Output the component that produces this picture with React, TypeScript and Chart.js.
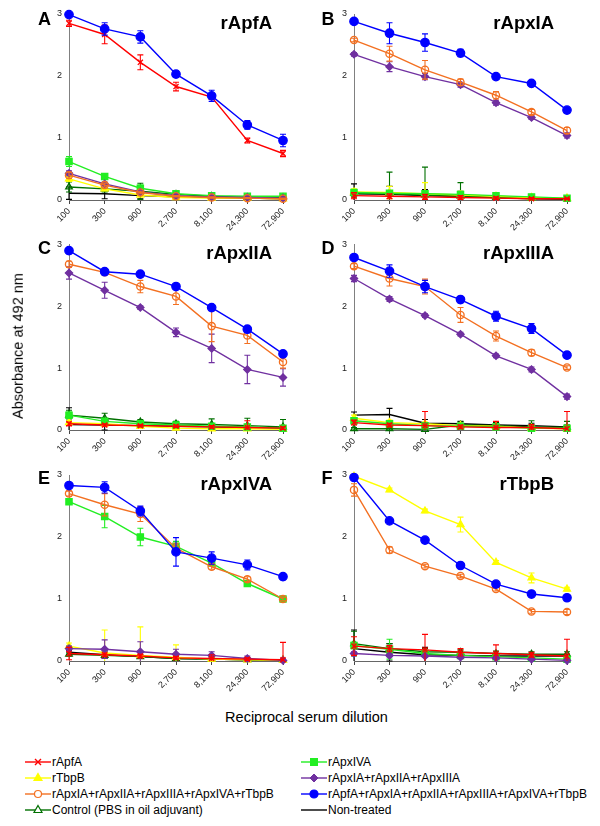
import React, { useEffect, useRef } from 'react';
import { Chart, registerables } from 'chart.js';

Chart.register(...registerables);

const FONT = "'Liberation Sans', Arial, Helvetica, sans-serif";

// ---------- categories / ticks ----------
const dilutions = ['100', '300', '900', '2,700', '8,100', '24,300', '72,900'];
const yMin = 0;
const yMax = 3;
const yStep = 1;

// ---------- series ----------
const seriesLabels = [
  'rApfA',
  'rTbpB',
  'rApxIA+rApxIIA+rApxIIIA+rApxIVA+rTbpB',
  'Control (PBS in oil adjuvant)',
  'rApxIVA',
  'rApxIA+rApxIIA+rApxIIIA',
  'rApfA+rApxIA+rApxIIA+rApxIIIA+rApxIVA+rTbpB',
  'Non-treated',
];

// ---------- Panel A : rApfA ----------
const A_apfa = [2.85, 2.67, 2.22, 1.83, 1.66, 0.96, 0.75];
const A_apfa_sd = [0.05, 0.15, 0.12, 0.07, 0.04, 0.04, 0.05];
const A_tbpb = [0.34, 0.18, 0.08, 0.04, 0.03, 0.03, 0.02];
const A_tbpb_sd = [0.04, 0.03, 0.02, 0.02, 0.01, 0.01, 0.01];
const A_mix5 = [0.4, 0.24, 0.12, 0.06, 0.04, 0.03, 0.02];
const A_mix5_sd = [0.05, 0.03, 0.02, 0.01, 0.01, 0.01, 0.01];
const A_ctrl = [0.21, 0.18, 0.14, 0.09, 0.06, 0.04, 0.04];
const A_ctrl_sd = [0.08, 0.05, 0.13, 0.04, 0.03, 0.02, 0.02];
const A_apx4 = [0.62, 0.38, 0.19, 0.1, 0.07, 0.06, 0.06];
const A_apx4_sd = [0.08, 0.04, 0.05, 0.03, 0.02, 0.02, 0.02];
const A_apx123 = [0.43, 0.26, 0.13, 0.07, 0.05, 0.04, 0.03];
const A_apx123_sd = [0.04, 0.03, 0.02, 0.02, 0.01, 0.01, 0.01];
const A_all6 = [2.99, 2.76, 2.63, 2.03, 1.68, 1.21, 0.96];
const A_all6_sd = [0.03, 0.1, 0.1, 0.05, 0.09, 0.07, 0.1];
const A_none = [0.11, 0.1, 0.07, 0.05, 0.04, 0.03, 0.02];
const A_none_sd = [0.1, 0.08, 0.05, 0.03, 0.02, 0.02, 0.02];

// ---------- Panel B : rApxIA ----------
const B_apfa = [0.07, 0.06, 0.05, 0.04, 0.03, 0.02, 0.02];
const B_apfa_sd = [0.05, 0.04, 0.04, 0.03, 0.02, 0.02, 0.01];
const B_tbpb = [0.13, 0.12, 0.1, 0.08, 0.06, 0.04, 0.03];
const B_tbpb_sd = [0.05, 0.1, 0.18, 0.06, 0.03, 0.02, 0.02];
const B_mix5 = [2.58, 2.36, 2.1, 1.9, 1.69, 1.42, 1.12];
const B_mix5_sd = [0.03, 0.12, 0.15, 0.05, 0.06, 0.04, 0.05];
const B_ctrl = [0.11, 0.1, 0.08, 0.06, 0.04, 0.03, 0.02];
const B_ctrl_sd = [0.06, 0.35, 0.45, 0.22, 0.03, 0.02, 0.02];
const B_apx4 = [0.12, 0.11, 0.1, 0.09, 0.07, 0.05, 0.03];
const B_apx4_sd = [0.03, 0.03, 0.03, 0.02, 0.02, 0.02, 0.02];
const B_apx123 = [2.35, 2.15, 1.99, 1.86, 1.57, 1.33, 1.04];
const B_apx123_sd = [0.03, 0.08, 0.05, 0.04, 0.04, 0.03, 0.04];
const B_all6 = [2.88, 2.69, 2.54, 2.37, 1.99, 1.88, 1.45];
const B_all6_sd = [0.04, 0.17, 0.14, 0.06, 0.04, 0.02, 0.03];
const B_none = [0.1, 0.09, 0.07, 0.06, 0.04, 0.02, 0.01];
const B_none_sd = [0.16, 0.13, 0.1, 0.08, 0.05, 0.02, 0.01];

// ---------- Panel C : rApxIIA ----------
const C_apfa = [0.1, 0.08, 0.07, 0.06, 0.05, 0.04, 0.03];
const C_apfa_sd = [0.03, 0.02, 0.02, 0.02, 0.02, 0.11, 0.02];
const C_tbpb = [0.12, 0.1, 0.06, 0.03, 0.02, 0.02, 0.01];
const C_tbpb_sd = [0.03, 0.03, 0.02, 0.01, 0.01, 0.01, 0.01];
const C_mix5 = [2.68, 2.55, 2.32, 2.16, 1.68, 1.53, 1.1];
const C_mix5_sd = [0.05, 0.04, 0.1, 0.13, 0.25, 0.13, 0.1];
const C_ctrl = [0.24, 0.19, 0.13, 0.1, 0.09, 0.07, 0.05];
const C_ctrl_sd = [0.08, 0.08, 0.04, 0.04, 0.09, 0.12, 0.12];
const C_apx4 = [0.24, 0.14, 0.1, 0.08, 0.06, 0.05, 0.03];
const C_apx4_sd = [0.05, 0.04, 0.03, 0.02, 0.02, 0.02, 0.02];
const C_apx123 = [2.54, 2.26, 1.98, 1.58, 1.32, 0.98, 0.85];
const C_apx123_sd = [0.1, 0.13, 0.03, 0.07, 0.23, 0.23, 0.14];
const C_all6 = [2.9, 2.56, 2.52, 2.32, 1.98, 1.63, 1.23];
const C_all6_sd = [0.05, 0.03, 0.03, 0.03, 0.04, 0.04, 0.05];
const C_none = [0.09, 0.08, 0.07, 0.06, 0.05, 0.04, 0.03];
const C_none_sd = [0.27, 0.08, 0.04, 0.03, 0.03, 0.02, 0.02];

// ---------- Panel D : rApxIIIA ----------
const D_apfa = [0.12, 0.08, 0.07, 0.05, 0.04, 0.04, 0.02];
const D_apfa_sd = [0.04, 0.03, 0.23, 0.03, 0.1, 0.05, 0.28];
const D_tbpb = [0.19, 0.12, 0.1, 0.07, 0.06, 0.03, 0.02];
const D_tbpb_sd = [0.05, 0.04, 0.03, 0.03, 0.03, 0.02, 0.02];
const D_mix5 = [2.65, 2.45, 2.32, 1.86, 1.52, 1.25, 1.01];
const D_mix5_sd = [0.04, 0.12, 0.12, 0.12, 0.08, 0.05, 0.03];
const D_ctrl = [0.02, 0.02, 0.01, 0.08, 0.07, 0.05, 0.04];
const D_ctrl_sd = [0.02, 0.02, 0.02, 0.05, 0.06, 0.1, 0.1];
const D_apx4 = [0.15, 0.1, 0.07, 0.06, 0.05, 0.03, 0.03];
const D_apx4_sd = [0.04, 0.03, 0.03, 0.02, 0.02, 0.02, 0.02];
const D_apx123 = [2.45, 2.12, 1.85, 1.55, 1.2, 0.98, 0.54];
const D_apx123_sd = [0.05, 0.04, 0.03, 0.03, 0.03, 0.04, 0.04];
const D_all6 = [2.79, 2.57, 2.32, 2.11, 1.84, 1.64, 1.21];
const D_all6_sd = [0.04, 0.1, 0.1, 0.05, 0.08, 0.08, 0.05];
const D_none = [0.24, 0.25, 0.11, 0.1, 0.08, 0.07, 0.05];
const D_none_sd = [0.05, 0.1, 0.06, 0.04, 0.04, 0.04, 0.03];

// ---------- Panel E : rApxIVA ----------
const E_apfa = [0.12, 0.1, 0.08, 0.05, 0.04, 0.03, 0.02];
const E_apfa_sd = [0.1, 0.03, 0.03, 0.02, 0.06, 0.02, 0.28];
const E_tbpb = [0.24, 0.13, 0.09, 0.06, 0.03, 0.02, 0.01];
const E_tbpb_sd = [0.05, 0.37, 0.46, 0.2, 0.03, 0.02, 0.01];
const E_mix5 = [2.7, 2.52, 2.37, 1.82, 1.52, 1.32, 1.0];
const E_mix5_sd = [0.04, 0.18, 0.12, 0.08, 0.04, 0.04, 0.03];
const E_ctrl = [0.11, 0.09, 0.07, 0.04, 0.03, 0.02, 0.02];
const E_ctrl_sd = [0.03, 0.03, 0.02, 0.02, 0.02, 0.01, 0.01];
const E_apx4 = [2.57, 2.33, 2.0, 1.85, 1.58, 1.25, 1.0];
const E_apx4_sd = [0.04, 0.18, 0.14, 0.08, 0.04, 0.03, 0.03];
const E_apx123 = [0.2, 0.19, 0.15, 0.11, 0.09, 0.04, 0.01];
const E_apx123_sd = [0.04, 0.15, 0.16, 0.08, 0.06, 0.04, 0.02];
const E_all6 = [2.83, 2.8, 2.42, 1.76, 1.66, 1.55, 1.36];
const E_all6_sd = [0.03, 0.09, 0.08, 0.23, 0.1, 0.08, 0.05];
const E_none = [0.14, 0.1, 0.07, 0.04, 0.03, 0.02, 0.01];
const E_none_sd = [0.03, 0.06, 0.03, 0.02, 0.02, 0.01, 0.01];

// ---------- Panel F : rTbpB ----------
const F_apfa = [0.24, 0.2, 0.18, 0.14, 0.12, 0.1, 0.08];
const F_apfa_sd = [0.15, 0.05, 0.25, 0.06, 0.14, 0.04, 0.27];
const F_tbpb = [2.98, 2.76, 2.42, 2.2, 1.59, 1.34, 1.16];
const F_tbpb_sd = [0.03, 0.03, 0.03, 0.12, 0.03, 0.08, 0.03];
const F_mix5 = [2.76, 1.79, 1.53, 1.37, 1.16, 0.8, 0.79];
const F_mix5_sd = [0.1, 0.05, 0.03, 0.03, 0.03, 0.03, 0.04];
const F_ctrl = [0.28, 0.2, 0.15, 0.14, 0.12, 0.11, 0.11];
const F_ctrl_sd = [0.2, 0.08, 0.05, 0.04, 0.04, 0.04, 0.04];
const F_apx4 = [0.25, 0.19, 0.12, 0.09, 0.07, 0.05, 0.03];
const F_apx4_sd = [0.05, 0.16, 0.04, 0.03, 0.02, 0.02, 0.02];
const F_apx123 = [0.12, 0.09, 0.08, 0.06, 0.05, 0.03, 0.01];
const F_apx123_sd = [0.03, 0.02, 0.02, 0.02, 0.02, 0.02, 0.01];
const F_all6 = [2.96, 2.26, 1.95, 1.54, 1.24, 1.08, 1.02];
const F_all6_sd = [0.03, 0.03, 0.03, 0.03, 0.03, 0.03, 0.04];
const F_none = [0.2, 0.14, 0.1, 0.09, 0.08, 0.08, 0.08];
const F_none_sd = [0.3, 0.14, 0.12, 0.04, 0.03, 0.03, 0.03];

// ---------- panels (built from the arrays above) ----------
type Panel = { letter: string; title: string; means: number[][]; sds: number[][]; col: number; row: number };
const panels: Panel[] = [
  { letter: 'A', title: 'rApfA', col: 0, row: 0,
    means: [A_apfa, A_tbpb, A_mix5, A_ctrl, A_apx4, A_apx123, A_all6, A_none],
    sds: [A_apfa_sd, A_tbpb_sd, A_mix5_sd, A_ctrl_sd, A_apx4_sd, A_apx123_sd, A_all6_sd, A_none_sd] },
  { letter: 'B', title: 'rApxIA', col: 1, row: 0,
    means: [B_apfa, B_tbpb, B_mix5, B_ctrl, B_apx4, B_apx123, B_all6, B_none],
    sds: [B_apfa_sd, B_tbpb_sd, B_mix5_sd, B_ctrl_sd, B_apx4_sd, B_apx123_sd, B_all6_sd, B_none_sd] },
  { letter: 'C', title: 'rApxIIA', col: 0, row: 1,
    means: [C_apfa, C_tbpb, C_mix5, C_ctrl, C_apx4, C_apx123, C_all6, C_none],
    sds: [C_apfa_sd, C_tbpb_sd, C_mix5_sd, C_ctrl_sd, C_apx4_sd, C_apx123_sd, C_all6_sd, C_none_sd] },
  { letter: 'D', title: 'rApxIIIA', col: 1, row: 1,
    means: [D_apfa, D_tbpb, D_mix5, D_ctrl, D_apx4, D_apx123, D_all6, D_none],
    sds: [D_apfa_sd, D_tbpb_sd, D_mix5_sd, D_ctrl_sd, D_apx4_sd, D_apx123_sd, D_all6_sd, D_none_sd] },
  { letter: 'E', title: 'rApxIVA', col: 0, row: 2,
    means: [E_apfa, E_tbpb, E_mix5, E_ctrl, E_apx4, E_apx123, E_all6, E_none],
    sds: [E_apfa_sd, E_tbpb_sd, E_mix5_sd, E_ctrl_sd, E_apx4_sd, E_apx123_sd, E_all6_sd, E_none_sd] },
  { letter: 'F', title: 'rTbpB', col: 1, row: 2,
    means: [F_apfa, F_tbpb, F_mix5, F_ctrl, F_apx4, F_apx123, F_all6, F_none],
    sds: [F_apfa_sd, F_tbpb_sd, F_mix5_sd, F_ctrl_sd, F_apx4_sd, F_apx123_sd, F_all6_sd, F_none_sd] },
];

// ---------- styles ----------
type Style = { color: string; point: any; radius: number; fill: string };
const seriesStyles: Style[] = [
  { color: '#FF0000', point: 'crossRot', radius: 3.6, fill: '#FF0000' },
  { color: '#FFFF00', point: 'triangle', radius: 4, fill: '#FFFF00' },
  { color: '#F37021', point: 'circle', radius: 3.6, fill: 'rgba(255,255,255,0)' },
  { color: '#007000', point: 'triangle', radius: 3.8, fill: 'rgba(255,255,255,0)' },
  { color: '#22EE22', point: 'rect', radius: 4.4, fill: '#22EE22' },
  { color: '#7030A0', point: 'rectRot', radius: 3.6, fill: '#7030A0' },
  { color: '#0000FF', point: 'circle', radius: 4.2, fill: '#0000FF' },
  { color: '#000000', point: false, radius: 0, fill: '#000000' },
];
const drawOrder = [6, 0, 2, 5, 4, 1, 3, 7];

const colGeom = [
  { left: 0, width: 300, yw: 69, padRight: 17, titleRight: 272, letterLeft: 38 },
  { left: 300, width: 300, yw: 54, padRight: 33, titleRight: 554, letterLeft: 321.5 },
];
const rowGeom = [
  { top: 0, height: 232, padTop: 14, xh: 32, letterCap: 12, titleBase: 30 },
  { top: 232, height: 228, padTop: 12.5, xh: 30, letterCap: 241.5, titleBase: 260 },
  { top: 460, height: 240, padTop: 15, xh: 39, letterCap: 471, titleBase: 490.5 },
];

const errorBarPlugin = {
  id: 'errorBars',
  afterDatasetDraw(chart: any, args: any) {
    const ds = chart.data.datasets[args.index];
    const errs: number[] | undefined = ds.errors;
    if (!errs) return;
    const yScale = chart.scales.y;
    const ctx = chart.ctx as CanvasRenderingContext2D;
    ctx.save();
    ctx.strokeStyle = ds.borderColor;
    ctx.lineWidth = 1.1;
    args.meta.data.forEach((pt: any, i: number) => {
      const v = ds.data[i];
      const e = errs[i];
      if (v == null || !e) return;
      const x = pt.x;
      const lo = v - e;
      const clipped = lo < yMin;
      const y1 = yScale.getPixelForValue(v + e);
      const y2 = yScale.getPixelForValue(clipped ? yMin : lo);
      ctx.beginPath();
      ctx.moveTo(x, y1);
      ctx.lineTo(x, y2);
      ctx.moveTo(x - 3, y1);
      ctx.lineTo(x + 3, y1);
      if (!clipped) {
        ctx.moveTo(x - 3, y2);
        ctx.lineTo(x + 3, y2);
      }
      ctx.stroke();
    });
    ctx.restore();
  },
};

function PanelChart({ panel }: { panel: Panel }) {
  const ref = useRef<HTMLCanvasElement>(null);
  const cg = colGeom[panel.col];
  const rg = rowGeom[panel.row];
  useEffect(() => {
    const canvas = ref.current;
    if (!canvas) return;
    const datasets = drawOrder.map((si) => {
      const st = seriesStyles[si];
      return {
        label: seriesLabels[si],
        data: panel.means[si],
        errors: panel.sds[si],
        borderColor: st.color,
        backgroundColor: st.fill,
        pointStyle: st.point,
        pointRadius: st.radius,
        pointHoverRadius: st.radius,
        pointBorderColor: st.color,
        pointBackgroundColor: st.fill,
        pointBorderWidth: 1.3,
        borderWidth: 1.4,
        tension: 0,
        fill: false,
        clip: false as any,
      };
    });
    const chart = new Chart(canvas, {
      type: 'line',
      data: { labels: dilutions, datasets: datasets as any },
      options: {
        animation: false,
        responsive: false,
        maintainAspectRatio: false,
        devicePixelRatio: 1,
        events: [],
        layout: { padding: { top: rg.padTop, right: cg.padRight, bottom: 0, left: 0 } },
        plugins: { legend: { display: false }, tooltip: { enabled: false }, title: { display: false } },
        scales: {
          x: {
            type: 'category',
            offset: false,
            grid: { display: true, drawOnChartArea: false, drawTicks: true, tickLength: 4, color: '#444444' },
            border: { display: true, color: '#666666', width: 1 },
            ticks: {
              autoSkip: false,
              minRotation: 45,
              maxRotation: 45,
              padding: 2,
              color: '#222222',
              font: { family: FONT, size: 9 },
            },
            afterFit: (s: any) => { s.height = rg.xh; },
          },
          y: {
            min: yMin,
            max: yMax,
            ticks: { stepSize: yStep, padding: 7, color: '#222222', font: { family: FONT, size: 9 } },
            grid: { display: false, drawTicks: false },
            border: { display: true, color: '#808080', width: 1 },
            afterFit: (s: any) => { s.width = cg.yw; },
          },
        },
      },
      plugins: [errorBarPlugin],
    });
    return () => chart.destroy();
  }, []);
  return (
    <canvas
      ref={ref}
      width={cg.width}
      height={rg.height}
      style={{ position: 'absolute', left: cg.left, top: rg.top, width: cg.width, height: rg.height, display: 'block' }}
    />
  );
}

function LegendMarker({ st }: { st: Style }) {
  const cx = 13, cy = 6, r = 4;
  let m: React.ReactNode = null;
  if (st.point === 'crossRot') {
    m = <path d={`M${cx - 3} ${cy - 3}L${cx + 3} ${cy + 3}M${cx - 3} ${cy + 3}L${cx + 3} ${cy - 3}`} stroke={st.color} strokeWidth={1.4} />;
  } else if (st.point === 'triangle') {
    m = <polygon points={`${cx},${cy - 4.5} ${cx + 4},${cy + 2.5} ${cx - 4},${cy + 2.5}`} fill={st.fill === 'rgba(255,255,255,0)' ? '#fff' : st.fill} stroke={st.color} strokeWidth={1.2} />;
  } else if (st.point === 'circle') {
    m = <circle cx={cx} cy={cy} r={st.fill === 'rgba(255,255,255,0)' ? 3.5 : r} fill={st.fill === 'rgba(255,255,255,0)' ? '#fff' : st.fill} stroke={st.color} strokeWidth={1.2} />;
  } else if (st.point === 'rect') {
    m = <rect x={cx - 3.5} y={cy - 3.5} width={7} height={7} fill={st.fill} stroke={st.color} />;
  } else if (st.point === 'rectRot') {
    m = <polygon points={`${cx},${cy - 4} ${cx + 4},${cy} ${cx},${cy + 4} ${cx - 4},${cy}`} fill={st.fill} stroke={st.color} />;
  }
  return (
    <svg width={26} height={12} style={{ display: 'block' }}>
      <line x1={0} y1={cy} x2={26} y2={cy} stroke={st.color} strokeWidth={1.4} />
      {m}
    </svg>
  );
}

const txt = (size: number, bold = false): React.CSSProperties => ({
  position: 'absolute',
  fontFamily: FONT,
  fontSize: size,
  fontWeight: bold ? 'bold' : 'normal',
  lineHeight: 1,
  whiteSpace: 'nowrap',
  color: '#000',
});

export default function App() {
  const legendCols = [
    { lineX: 25, textX: 52, items: [0, 1, 2, 3] },
    { lineX: 301, textX: 328, items: [4, 5, 6, 7] },
  ];
  return (
    <div style={{ position: 'absolute', left: 0, top: 0, width: 600, height: 826, background: '#fff', overflow: 'hidden' }}>
      {panels.map((p) => (
        <PanelChart key={p.letter} panel={p} />
      ))}
      {panels.map((p) => {
        const cg = colGeom[p.col];
        const rg = rowGeom[p.row];
        return (
          <React.Fragment key={'t' + p.letter}>
            <div style={{ ...txt(18, true), left: cg.letterLeft, top: rg.letterCap - 0.1305 * 18 }}>{p.letter}</div>
            <div style={{ ...txt(18.5, true), left: cg.titleRight - 200, width: 200, textAlign: 'right', top: rg.titleBase - 0.8465 * 18.5 }}>{p.title}</div>
          </React.Fragment>
        );
      })}
      <div style={{ ...txt(14.5), left: 18, top: 346, transform: 'translate(-50%, -50%) rotate(-90deg)' }}>Absorbance at 492 nm</div>
      <div style={{ ...txt(14.5), left: 306.5, top: 722 - 0.8465 * 14.5, transform: 'translateX(-50%)' }}>Reciprocal serum dilution</div>
      {legendCols.map((c, ci) =>
        c.items.map((si, ri) => {
          const lineY = 761.7 + 16 * ri;
          const base = 766 + 16 * ri;
          return (
            <React.Fragment key={`lg${ci}-${ri}`}>
              <div style={{ position: 'absolute', left: c.lineX, top: lineY - 6 }}>
                <LegendMarker st={seriesStyles[si]} />
              </div>
              <div style={{ ...txt(12), left: c.textX, top: base - 0.8465 * 12 }}>{seriesLabels[si]}</div>
            </React.Fragment>
          );
        })
      )}
    </div>
  );
}
